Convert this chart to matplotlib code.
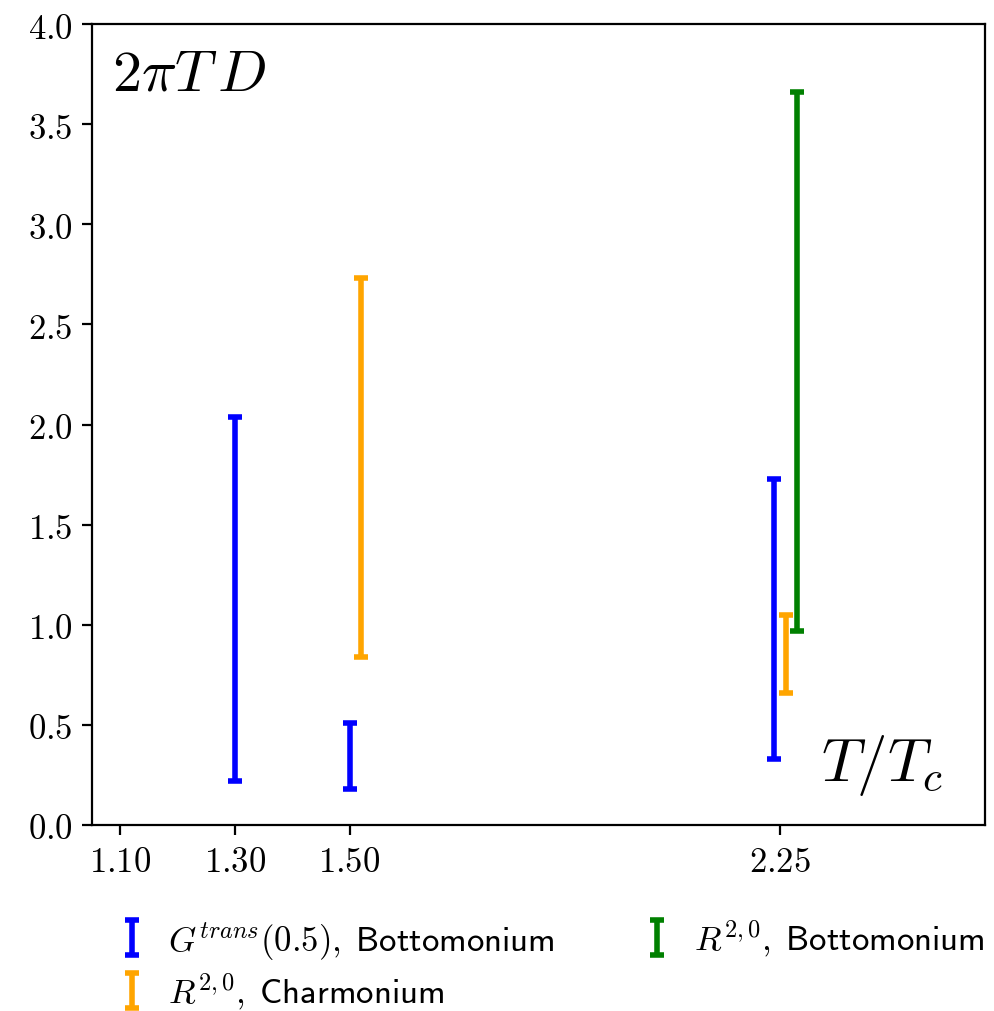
import numpy as np
import matplotlib
matplotlib.use('Agg')
import matplotlib.pyplot as plt

plt.rcParams['mathtext.fontset'] = 'cm'
plt.rcParams['font.family'] = 'DejaVu Sans'

# intervals (lower, upper) for each series
x_bot_g = [1.30, 1.50, 2.24]
lo_bot_g = [0.22, 0.18, 0.33]
hi_bot_g = [2.04, 0.51, 1.73]

x_charm = [1.52, 2.26]
lo_charm = [0.84, 0.66]
hi_charm = [2.73, 1.05]

x_bot_r = [2.28]
lo_bot_r = [0.97]
hi_bot_r = [3.66]

xticks = [1.10, 1.30, 1.50, 2.25]
xticklabels = ['$1.10$', '$1.30$', '$1.50$', '$2.25$']
yticks = [0.0, 0.5, 1.0, 1.5, 2.0, 2.5, 3.0, 3.5, 4.0]

labels = [r'$G^{trans}(0.5)\mathsf{,\;Bottomonium}$',
          r'$R^{2,0}\mathsf{,\;Charmonium}$',
          r'$R^{2,0}\mathsf{,\;Bottomonium}$']
colors = ['blue', 'orange', 'green']

fig = plt.figure(figsize=(4.975, 5.06), dpi=200)
ax = fig.add_axes([0.0925, 0.184, 0.8975, 0.791])

series = [(x_bot_g, lo_bot_g, hi_bot_g),
          (x_charm, lo_charm, hi_charm),
          (x_bot_r, lo_bot_r, hi_bot_r)]
for (x, lo, hi), c, lab in zip(series, colors, labels):
    lo = np.array(lo)
    hi = np.array(hi)
    mid = (lo + hi) / 2
    err = (hi - lo) / 2
    ax.errorbar(x, mid, yerr=err, fmt='none', ecolor=c, elinewidth=2.0,
                capsize=2.4, capthick=2.0, label=lab)

ax.set_xlim(1.0513, 2.607)
ax.set_ylim(0, 4.0)
ax.set_xticks(xticks)
ax.set_xticklabels(xticklabels)
ax.set_yticks(yticks)
ax.set_yticklabels(['$%.1f$' % v for v in yticks])
ax.tick_params(labelsize=12.5)

ax.text(0.022, 0.975, r'$2\pi T\,D$', transform=ax.transAxes, fontsize=21,
        ha='left', va='top')
ax.text(0.953, 0.035, r'$T/T_c$', transform=ax.transAxes, fontsize=22,
        ha='right', va='bottom')

ax.legend(loc='upper left', bbox_to_anchor=(0.029, -0.116), ncol=2,
          frameon=False, fontsize=12.5, handlelength=0.8, columnspacing=2.55,
          handletextpad=0.65, borderaxespad=0.0, borderpad=0.0,
          labelspacing=0.25)

fig.savefig('out.png', dpi=200)
